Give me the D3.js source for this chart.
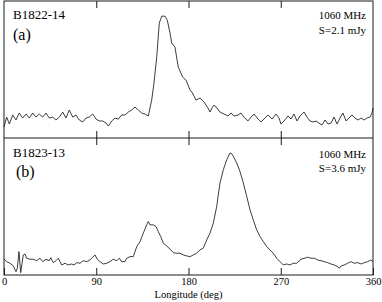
<!DOCTYPE html>
<html><head><meta charset="utf-8">
<script src="https://cdn.jsdelivr.net/npm/d3@7"></script>
<style>
html,body{margin:0;padding:0;background:#fff;}
svg{display:block;}
text{font-family:"Liberation Serif","Times New Roman",serif;fill:#000;}
</style></head>
<body>
<svg id="c" width="382" height="302"></svg>
<script>
// Longitude (deg) and relative intensity (% of peak)
const lonA = [0,2.6,5.2,8.5,11.7,14.9,18.2,21.5,24.7,28.0,31.2,34.4,37.8,41.0,44.2,47.5,50.7,54.0,57.3,60.5,63.7,67.0,70.2,73.5,76.8,80.0,83.2,86.5,89.8,93.0,96.3,99.5,101.8,105.1,108.3,111.5,114.8,118.0,121.3,124.6,127.8,131.0,134.3,137.6,140.8,144.1,146.3,149.0,151.5,153.9,157.1,159.3,162.0,163.6,166.8,170.0,174.3,177.6,181.5,183.4,187.3,191.2,195.1,199.0,201.0,202.9,204.9,207.8,210.7,214.6,218.5,221.5,224.4,228.3,231.2,234.1,238.0,241.0,243.9,247.8,250.7,254.6,257.6,261.5,265.4,268.3,270.2,273.2,277.1,280.0,282.9,285.9,288.8,292.7,295.6,298.5,301.5,304.4,307.3,310.2,313.2,316.1,319.0,322.0,324.9,327.8,330.7,333.7,336.6,339.5,342.4,345.4,348.3,351.2,354.1,357.1,359.0,360];
const intA = [9.0,17.1,11.4,18.8,14.7,20.4,16.3,19.6,16.3,20.4,17.1,19.6,17.1,20.4,16.3,17.1,14.7,17.1,21.2,16.3,22.9,17.1,18.8,14.7,13.1,16.3,17.1,19.6,15.5,13.9,13.9,12.2,9.8,13.9,16.3,15.5,18.8,18.8,21.2,22.9,25.3,22.9,20.4,19.6,18.0,31.0,44.9,66.1,93.9,99.6,99.6,96.3,85.7,77.6,74.3,58.0,49.8,47.3,39.2,37.5,31.0,32.7,29.4,24.5,21.2,24.5,26.9,24.5,21.2,19.6,18.0,20.4,18.0,18.8,20.4,17.1,13.9,17.1,19.6,15.5,13.1,16.3,18.8,15.5,19.6,16.3,11.4,13.9,18.0,15.5,19.6,13.9,18.0,21.2,17.1,13.9,13.1,13.9,12.2,10.6,14.7,11.4,12.2,17.1,11.4,16.3,20.4,13.9,16.3,18.8,16.3,14.7,16.3,14.7,16.3,17.1,20.4,24.5];
const lonB = [0,2.6,5.9,9.1,11.7,13.0,14.6,16.3,17.6,18.8,20.5,22.1,25.4,28.6,31.9,35.1,37.8,41.0,44.2,45.6,48.1,50.7,53.0,56.3,59.5,62.7,66.0,68.3,70.9,74.1,77.4,80.7,83.9,86.5,88.8,91.0,93.7,96.9,100.2,103.4,106.6,110.0,112.5,114.8,118.0,119.7,122.9,126.1,129.5,132.7,135.9,139.2,140.8,142.4,145.7,148.3,150.5,152.9,155.4,158.7,162.0,165.2,168.5,171.7,174.9,178.2,181.5,184.7,188.0,191.2,194.4,197.8,201.0,204.2,207.5,210.7,214.0,217.3,220.5,222.1,223.7,227.0,230.2,233.5,236.8,240.0,243.2,246.5,249.8,253.0,256.3,259.5,262.7,266.0,269.3,272.5,275.8,279.0,282.2,285.6,289.8,296.3,299.5,302.7,306.0,309.3,312.5,315.8,319.0,322.2,325.6,327.1,328.8,332.0,335.3,338.5,341.8,345.1,348.3,351.5,354.8,358.0,360];
const intB = [13.1,10.9,9.6,7.4,2.7,5.5,19.1,1.9,9.6,16.4,17.2,13.7,12.9,12.9,11.7,13.7,10.9,12.9,11.7,14.2,10.1,11.7,13.7,8.2,9.6,8.2,9.0,8.2,10.1,9.6,11.7,10.9,12.3,14.5,16.4,12.9,10.9,9.0,9.6,10.9,12.9,11.7,13.7,10.9,10.9,13.7,15.0,15.0,23.2,27.3,34.2,41.0,43.7,41.0,41.0,39.6,35.5,31.4,26.0,23.8,21.1,18.3,17.8,17.8,16.4,15.6,15.0,16.4,17.8,20.5,21.9,28.7,34.2,42.4,56.0,75.2,86.1,94.3,99.8,99.2,97.0,91.6,84.7,75.2,64.2,53.3,45.1,36.9,31.4,27.3,23.2,20.5,17.8,13.7,10.9,8.2,9.0,8.2,9.6,9.6,12.9,14.5,13.7,13.7,12.3,11.7,10.9,10.1,9.0,8.2,6.8,5.5,7.4,8.2,9.6,10.9,9.6,10.1,9.0,10.1,10.9,12.3,10.9];
const xTicks = [0,90,180,270,360];
const panels = [
  {name:"B1822-14", tag:"(a)", freq:"1060 MHz", flux:"S=2.1 mJy", lon:lonA, val:intA},
  {name:"B1823-13", tag:"(b)", freq:"1060 MHz", flux:"S=3.6 mJy", lon:lonB, val:intB}
];
const xLabel = "Longitude  (deg)";

const svg = d3.select("#c");
const L = 4, R = 373, T = 1, M = 138, B = 275;
const x = d3.scaleLinear().domain([0,360]).range([L,R]);
const yTop = [T, M];
const yBot = [M, B];
const stroke = "#1a1a1a";

panels.forEach((p,i)=>{
  const y = d3.scaleLinear().domain([0,112]).range([yBot[i], yTop[i]]);
  const line = d3.line().x((d,k)=>x(p.lon[k])).y(d=>y(d));
  svg.append("path").datum(p.val).attr("d", line)
    .attr("fill","none").attr("stroke",stroke).attr("stroke-width",0.85);
  const gt = svg.append("g").attr("transform",`translate(0,${yTop[i]})`)
    .call(d3.axisBottom(x).tickValues([90,180,270]).tickSizeInner(7).tickSizeOuter(0).tickFormat(""));
  gt.select(".domain").remove();
  gt.selectAll("line").attr("stroke",stroke);
  const gb = svg.append("g").attr("transform",`translate(0,${yBot[i]})`)
    .call(d3.axisBottom(x).tickValues(i===1?xTicks:[90,180,270]).tickSizeInner(-7).tickSizeOuter(0).tickPadding(3)
      .tickFormat(i===1?d3.format("d"):""));
  gb.select(".domain").remove();
  gb.selectAll("line").attr("stroke",stroke);
  gb.selectAll("text").style("font-family","Liberation Serif, serif").style("font-size","10.5px").attr("fill","#000");

  svg.append("text").attr("x",13).attr("y",yTop[i]+(i===0?17.5:18.5)).style("font-size","13px").text(p.name);
  svg.append("text").attr("x",i===0?13:16).attr("y",yTop[i]+39).style("font-size","16px").text(p.tag);
  svg.append("text").attr("x",366).attr("y",yTop[i]+(i===0?18:19.5)).attr("text-anchor","end").style("font-size","11px").text(p.freq);
  svg.append("text").attr("x",366).attr("y",yTop[i]+(i===0?32.5:34)).attr("text-anchor","end").style("font-size","11px").text(p.flux);
});

svg.append("rect").attr("x",L).attr("y",T).attr("width",R-L).attr("height",B-T)
  .attr("fill","none").attr("stroke",stroke).attr("stroke-width",1);
svg.append("line").attr("x1",L).attr("x2",R).attr("y1",M).attr("y2",M).attr("stroke",stroke);

svg.append("text").attr("x",(L+R)/2).attr("y",298).attr("text-anchor","middle").style("font-size","10.5px").text(xLabel);
</script>
</body></html>
